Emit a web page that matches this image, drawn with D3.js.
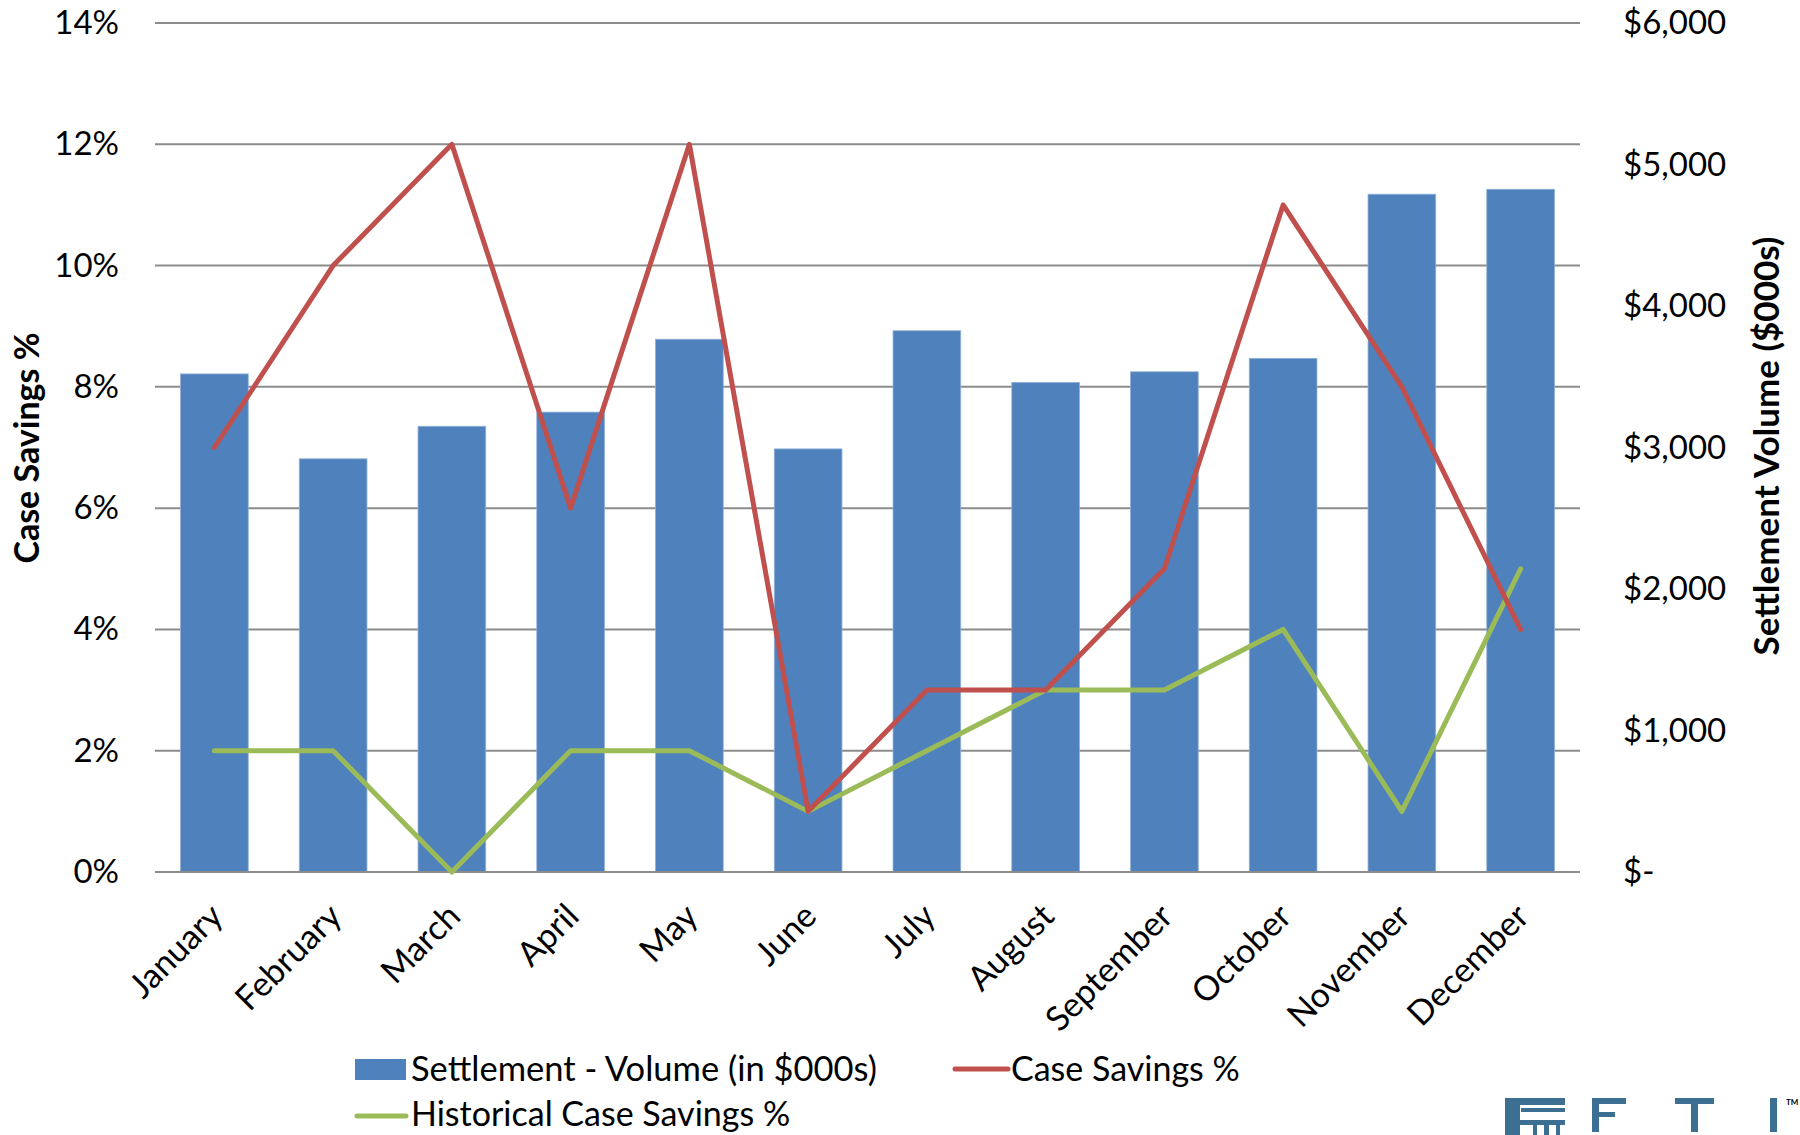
<!DOCTYPE html>
<html>
<head>
<meta charset="utf-8">
<script src="https://cdn.jsdelivr.net/npm/d3@7"></script>
<style>
  html, body { margin: 0; padding: 0; background: #fff; }
  svg { display: block; }
  text { font-family: Lato, "Open Sans", sans-serif; fill: #000; }
</style>
</head>
<body>
<svg id="chart" width="1800" height="1135"></svg>
<script>
// Monthly settlement volume and savings rates
const months = ["January", "February", "March", "April", "May", "June",
                "July", "August", "September", "October", "November", "December"];
const settlementVolume = [3520, 2920, 3150, 3250, 3765, 2990, 3825, 3460, 3535, 3630, 4790, 4825];
const caseSavings = [7, 10, 12, 6, 12, 1, 3, 3, 5, 11, 8, 4];
const historicalSavings = [2, 2, 0, 2, 2, 1, 2, 3, 3, 4, 1, 5];
const pctTicks = [0, 2, 4, 6, 8, 10, 12, 14];
const volumeTicks = [0, 1000, 2000, 3000, 4000, 5000, 6000];

const colors = { bar: "#4f81bd", red: "#c0504d", green: "#9bbb59", grid: "#8c8c8c", logo: "#3d6f92" };

const svg = d3.select("#chart");
const plot = { left: 155, right: 1580, top: 23, bottom: 872 };

const x = d3.scaleBand().domain(months).range([plot.left, plot.right])
  .paddingInner(0.43).paddingOuter(0.215);
const yPct = d3.scaleLinear().domain([0, 14]).range([plot.bottom, plot.top]);
const yVol = d3.scaleLinear().domain([0, 6000]).range([plot.bottom, plot.top]);
const cx = m => x(m) + x.bandwidth() / 2;

// horizontal gridlines
svg.append("g").selectAll("line").data(pctTicks).join("line")
  .attr("x1", plot.left).attr("x2", plot.right)
  .attr("y1", d => yPct(d)).attr("y2", d => yPct(d))
  .attr("stroke", colors.grid).attr("stroke-width", 2);

// bars
svg.append("g").selectAll("rect").data(months).join("rect")
  .attr("x", d => x(d)).attr("width", x.bandwidth())
  .attr("y", (d, i) => yVol(settlementVolume[i]))
  .attr("height", (d, i) => yVol(0) - yVol(settlementVolume[i]))
  .attr("fill", colors.bar)
  .attr("stroke", "#8fb0d8").attr("stroke-width", 0.8);

// baseline over the bars
svg.append("line").attr("x1", plot.left).attr("x2", plot.right)
  .attr("y1", yPct(0)).attr("y2", yPct(0))
  .attr("stroke", colors.grid).attr("stroke-width", 2);

// lines
const line = d3.line().x(d => cx(d.m)).y(d => yPct(d.v));
const lineData = arr => months.map((m, i) => ({ m, v: arr[i] }));
svg.append("path").datum(lineData(historicalSavings)).attr("d", line)
  .attr("fill", "none").attr("stroke", colors.green).attr("stroke-width", 5)
  .attr("stroke-linejoin", "round").attr("stroke-linecap", "round");
svg.append("path").datum(lineData(caseSavings)).attr("d", line)
  .attr("fill", "none").attr("stroke", colors.red).attr("stroke-width", 5)
  .attr("stroke-linejoin", "round").attr("stroke-linecap", "round");

// left axis
const leftAxis = d3.axisLeft(yPct).tickValues(pctTicks).tickFormat(d => d + "%").tickSize(0).tickPadding(0);
const gl = svg.append("g").attr("transform", "translate(119,0)").call(leftAxis);
gl.select(".domain").remove();
gl.selectAll("text").attr("font-size", 33).attr("font-family", "Lato, sans-serif").attr("fill", "#000");

// right axis
const volFmt = d => d === 0 ? "$-" : "$" + d3.format(",")(d);
const rightAxis = d3.axisRight(yVol).tickValues(volumeTicks).tickFormat(volFmt).tickSize(0).tickPadding(0);
const gr = svg.append("g").attr("transform", "translate(1623,0)").call(rightAxis);
gr.select(".domain").remove();
gr.selectAll("text").attr("font-size", 33).attr("font-family", "Lato, sans-serif").attr("fill", "#000");

// month labels
const bottomAxis = d3.axisBottom(x).tickSize(0).tickPadding(0);
const gb = svg.append("g").attr("transform", `translate(0,${plot.bottom})`).call(bottomAxis);
gb.select(".domain").remove();
gb.selectAll("text")
  .attr("font-size", 34).attr("font-family", "Lato, sans-serif").attr("fill", "#000")
  .attr("text-anchor", "end").attr("dy", "0.35em").attr("y", 0)
  .attr("transform", "translate(2,38) rotate(-45)");

// axis titles
svg.append("text").attr("transform", "translate(27,448) rotate(-90)")
  .attr("text-anchor", "middle").attr("dy", "0.35em")
  .attr("font-size", 34).attr("font-weight", 700).text("Case Savings %");
svg.append("text").attr("transform", "translate(1767,446) rotate(-90)")
  .attr("text-anchor", "middle").attr("dy", "0.35em")
  .attr("font-size", 35).attr("font-weight", 700).text("Settlement Volume ($000s)");

// legend
const legend = svg.append("g");
legend.append("rect").attr("x", 355).attr("y", 1059).attr("width", 51).attr("height", 21).attr("fill", colors.bar);
legend.append("text").attr("x", 411).attr("y", 1069).attr("dy", "0.35em").attr("font-size", 34.5)
  .text("Settlement - Volume (in $000s)");
legend.append("line").attr("x1", 955).attr("x2", 1008).attr("y1", 1069).attr("y2", 1069)
  .attr("stroke", colors.red).attr("stroke-width", 5).attr("stroke-linecap", "round");
legend.append("text").attr("x", 1011).attr("y", 1069).attr("dy", "0.35em").attr("font-size", 34)
  .text("Case Savings %");
legend.append("line").attr("x1", 357).attr("x2", 406).attr("y1", 1116).attr("y2", 1116)
  .attr("stroke", colors.green).attr("stroke-width", 5).attr("stroke-linecap", "round");
legend.append("text").attr("x", 411).attr("y", 1114).attr("dy", "0.35em").attr("font-size", 34)
  .text("Historical Case Savings %");

// company mark
const logo = svg.append("g").attr("fill", colors.logo);
logo.append("rect").attr("x", 1505).attr("y", 1098).attr("width", 60).attr("height", 7);
logo.append("rect").attr("x", 1505).attr("y", 1098).attr("width", 15).attr("height", 37);
logo.append("rect").attr("x", 1520).attr("y", 1120).attr("width", 45).attr("height", 5);
logo.append("rect").attr("x", 1533).attr("y", 1125).attr("width", 4).attr("height", 10);
logo.append("rect").attr("x", 1544).attr("y", 1125).attr("width", 5).attr("height", 10);
logo.append("rect").attr("x", 1556).attr("y", 1125).attr("width", 4).attr("height", 10);
logo.append("rect").attr("x", 1521).attr("y", 1108).attr("width", 44).attr("height", 4);
// F
logo.append("rect").attr("x", 1592).attr("y", 1098).attr("width", 34).attr("height", 6);
logo.append("rect").attr("x", 1592).attr("y", 1098).attr("width", 7).attr("height", 34);
logo.append("rect").attr("x", 1592).attr("y", 1112).attr("width", 23).attr("height", 5);
// T
logo.append("rect").attr("x", 1675).attr("y", 1098).attr("width", 39).attr("height", 6);
logo.append("rect").attr("x", 1691).attr("y", 1098).attr("width", 7).attr("height", 34);
// I
logo.append("rect").attr("x", 1770).attr("y", 1098).attr("width", 7).attr("height", 34);
svg.append("text").attr("x", 1786).attr("y", 1105).attr("font-size", 8).attr("font-weight", 700)
  .attr("fill", colors.logo).text("TM");
</script>
</body>
</html>
